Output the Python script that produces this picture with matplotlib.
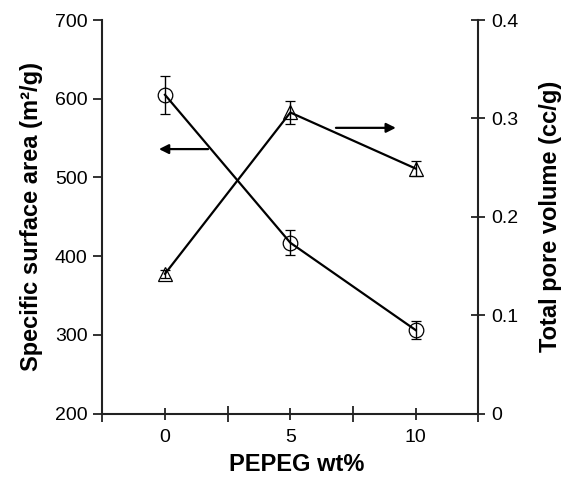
import matplotlib
matplotlib.use("Agg")
import matplotlib.pyplot as plt

plt.rcParams['font.family'] = ['Liberation Sans', 'DejaVu Sans']

# PEPEG content (wt%)
peg = [0, 5, 10]
# specific surface area (m2/g), left axis
surface_area = [605, 417, 306]
surface_err = [24, 16, 11]
# total pore volume (cc/g), right axis
pore_volume = [0.142, 0.306, 0.249]
pore_err = [0.004, 0.012, 0.008]

x_ticks = [0, 5, 10]
x_minor = [-2.5, 2.5, 7.5, 12.5]
left_ticks = [200, 300, 400, 500, 600, 700]
right_ticks = [0, 0.1, 0.2, 0.3, 0.4]
right_labels = ["0", "0.1", "0.2", "0.3", "0.4"]

fig = plt.figure(figsize=(5.63, 4.79), dpi=100)
ax = fig.add_axes([0.1817, 0.1367, 0.6679, 0.8215])
ax2 = ax.twinx()

style = dict(color="black", lw=1.6, mfc="none", mec="black", mew=0.9,
             ecolor="black", elinewidth=1.0, capsize=3.5, capthick=1.0)
ax.errorbar(peg, surface_area, yerr=surface_err, fmt="-o", ms=10.5, **style)
ax2.errorbar(peg, pore_volume, yerr=pore_err, fmt="-^", ms=10, **style)

ax.set_xlim(-2.5, 12.5)
ax.set_ylim(200, 700)
ax2.set_ylim(0, 0.4)

# only left/bottom on the main axes, only right on the twin
for s in ["top", "right"]:
    ax.spines[s].set_visible(False)
for s in ["top", "left", "bottom"]:
    ax2.spines[s].set_visible(False)
for sp in [ax.spines["left"], ax.spines["bottom"], ax2.spines["right"]]:
    sp.set_linewidth(1.5)
    sp.set_color("#222222")

ax.set_xticks(x_ticks)
ax.set_xticks(x_minor, minor=True)
ax.tick_params(axis="x", which="major", direction="inout", length=8, width=1.3,
               labelsize=14, pad=7, color="#222222")
ax.tick_params(axis="x", which="minor", direction="inout", length=12, width=1.3,
               color="#222222")
ax.set_yticks(left_ticks)
ax.tick_params(axis="y", direction="out", length=6.5, width=1.3, labelsize=14,
               pad=4, color="#222222")
ax2.set_yticks(right_ticks)
ax2.set_yticklabels(right_labels)
ax2.tick_params(axis="y", direction="inout", length=10, width=1.3, labelsize=14,
                pad=4, color="#222222")

# arrows pointing to the axis each curve belongs to
arrow = dict(arrowstyle="-|>", color="black", lw=1.6, mutation_scale=14,
             shrinkA=0, shrinkB=0)
ax.annotate("", xy=(-0.24, 536), xytext=(1.72, 536), arrowprops=arrow)
ax.annotate("", xy=(9.21, 563), xytext=(6.82, 563), arrowprops=arrow)

ax.set_xlabel("PEPEG wt%", fontsize=17, fontweight="bold")
ax.set_ylabel("Specific surface area (m²/g)", fontsize=17, fontweight="bold")
ax2.set_ylabel("Total pore volume (cc/g)", fontsize=17, fontweight="bold")
ax.xaxis.set_label_coords(0.518, -0.1)
ax.yaxis.set_label_coords(-0.158, 0.5)
ax2.yaxis.set_label_coords(1.161, 0.5)

fig.savefig("out.png", dpi=100)
